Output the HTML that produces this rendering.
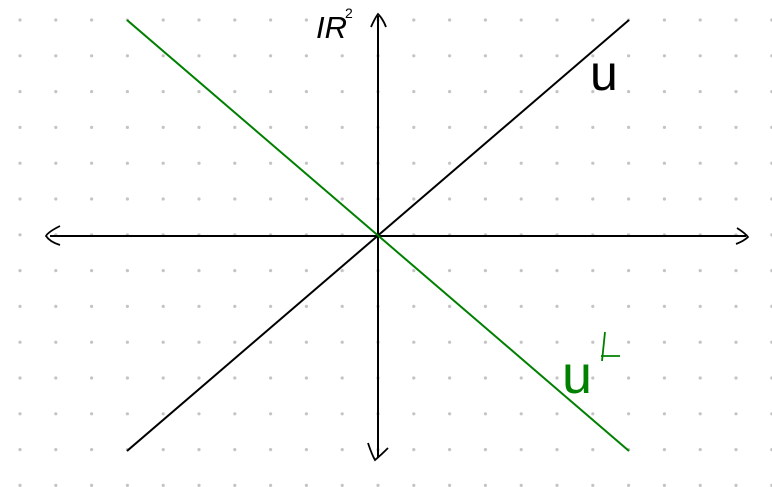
<!DOCTYPE html>
<html><head><meta charset="utf-8"><style>
html,body{margin:0;padding:0;background:#fff;}
svg{display:block;}
</style></head><body>
<svg width="772" height="487" viewBox="0 0 772 487" xmlns="http://www.w3.org/2000/svg">
<g id="dots"></g>
<line x1="50" y1="236" x2="746" y2="236" stroke="#000" stroke-width="2"/>
<path d="M60,226 Q48,232 46,236 Q50,242 60,245" fill="none" stroke="#000" stroke-width="1.8"/>
<path d="M737,228 Q745,233 748,237 Q744,241 736,244" fill="none" stroke="#000" stroke-width="1.8"/>
<line x1="378" y1="16" x2="378" y2="458" stroke="#000" stroke-width="2"/>
<path d="M371,27 Q375,18 378,14 Q383,19 386,27" fill="none" stroke="#000" stroke-width="1.8"/>
<path d="M368,443 Q372,455 375,460 Q381,455 388,448" fill="none" stroke="#000" stroke-width="1.8"/>
<line x1="127" y1="451" x2="629" y2="20" stroke="#000" stroke-width="2"/>
<line x1="127" y1="20" x2="629" y2="451" stroke="#008000" stroke-width="2"/>
<text x="316" y="38" font-family="Liberation Sans, sans-serif" font-size="31" font-style="italic" fill="#000">IR</text>
<text x="345" y="18" font-family="Liberation Sans, sans-serif" font-size="14" fill="#000">2</text>
<text x="590" y="90" font-family="Liberation Sans, sans-serif" font-size="50" fill="#000">u</text>
<text x="562" y="393" font-family="Liberation Sans, sans-serif" font-size="54" fill="#008000">u</text>
<path d="M605,332 L602,361 M601,356 L620,356" fill="none" stroke="#008000" stroke-width="1.8"/>
</svg>
<script>
const g=document.getElementById('dots');
for(let i=0;i<22;i++){for(let j=0;j<14;j++){
const c=document.createElementNS('http://www.w3.org/2000/svg','circle');


c.setAttribute('cx',20+i*35.8);c.setAttribute('cy',20+j*35.8);
c.setAttribute('r',1.6);c.setAttribute('fill','#c4c4c4');g.appendChild(c);}}
</script>
</body></html>
